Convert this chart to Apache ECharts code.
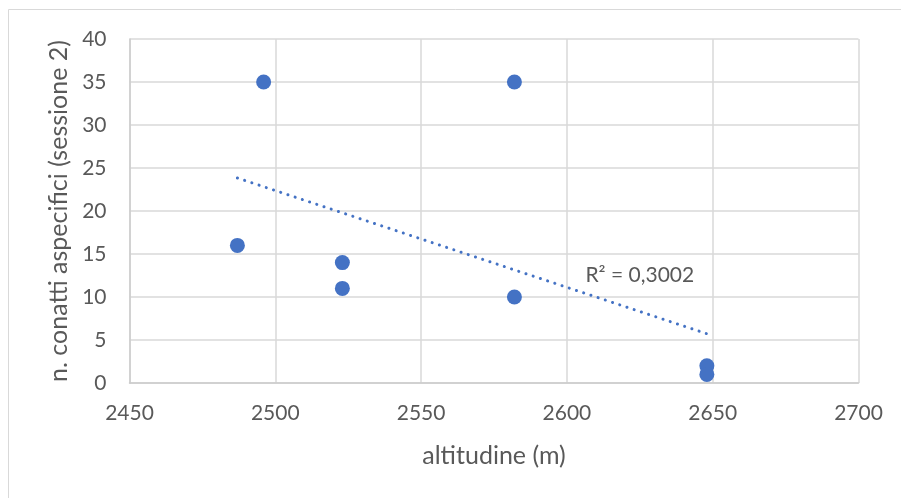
<!DOCTYPE html>
<html><head><meta charset="utf-8">
<script src="https://cdn.jsdelivr.net/npm/echarts@6/dist/echarts.min.js"></script>
<style>html,body{margin:0;padding:0;background:#fff}#c{width:901px;height:498px}</style>
</head><body><div id="c"></div>
<script>
var altitudes = [2487, 2496, 2523, 2523, 2582, 2582, 2648, 2648];
var contacts = [16, 35, 14, 11, 35, 10, 2, 1];
var xTicks = [2450, 2500, 2550, 2600, 2650, 2700];
var yTicks = [0, 5, 10, 15, 20, 25, 30, 35, 40];
var xTitle = 'altitudine (m)';
var yTitle = 'n. conatti aspecifici (sessione 2)';
var r2Label = 'R² = 0,3002';

var n = altitudes.length, mx = 0, my = 0;
for (var i = 0; i < n; i++) { mx += altitudes[i]; my += contacts[i]; }
mx /= n; my /= n;
var sxy = 0, sxx = 0;
for (var i = 0; i < n; i++) { sxy += (altitudes[i]-mx)*(contacts[i]-my); sxx += (altitudes[i]-mx)*(altitudes[i]-mx); }
var slope = sxy / sxx, icpt = my - slope * mx;
var xmin = Math.min.apply(null, altitudes), xmax = Math.max.apply(null, altitudes);
var trend = [[xmin, icpt + slope * xmin], [xmax, icpt + slope * xmax]];
var pts = altitudes.map(function (a, i) { return [a, contacts[i]]; });

var font = 'Lato, "Open Sans", sans-serif';
var chart = echarts.init(document.getElementById('c'), null, {renderer: 'canvas'});
chart.setOption({
  animation: false,
  graphic: [{type: 'rect', shape: {x: 8.5, y: 9.5, width: 900, height: 500},
    style: {fill: 'none', stroke: '#d9d9d9', lineWidth: 1}, z: -10}],
  grid: {left: 129.5, right: 42.5, top: 39, bottom: 115, containLabel: false},
  xAxis: {
    type: 'value', min: xTicks[0], max: xTicks[xTicks.length-1], interval: 50,
    name: xTitle, nameLocation: 'middle', nameGap: 60,
    nameTextStyle: {color: '#595959', fontSize: 25, fontFamily: font},
    axisLine: {show: true, lineStyle: {color: '#cccccc', width: 1.5}},
    axisTick: {show: false},
    axisLabel: {color: '#595959', fontSize: 21, fontFamily: font, margin: 20,
      formatter: function (v) { return String(v); }},
    splitLine: {show: true, lineStyle: {color: '#d9d9d9', width: 1.5}}
  },
  yAxis: {
    type: 'value', min: yTicks[0], max: yTicks[yTicks.length-1], interval: 5,
    name: yTitle, nameLocation: 'middle', nameGap: 47,
    nameTextStyle: {color: '#595959', fontSize: 25, fontFamily: font},
    axisLine: {show: true, lineStyle: {color: '#cccccc', width: 1.5}},
    axisTick: {show: false},
    axisLabel: {color: '#595959', fontSize: 21, fontFamily: font, margin: 23},
    splitLine: {show: true, lineStyle: {color: '#d9d9d9', width: 1.5}}
  },
  series: [
    {type: 'line', data: trend, showSymbol: false, symbol: 'none',
     lineStyle: {color: '#4472C4', width: 3, type: [0.1, 7.5], cap: 'round'},
     markPoint: {symbol: 'rect', symbolSize: 1, itemStyle: {color: 'transparent'},
       data: [{coord: [2625, 12.5], label: {show: true, formatter: r2Label, color: '#595959',
         fontSize: 21, fontFamily: font, position: 'inside'}}]},
     z: 3},
    {type: 'scatter', data: pts, symbol: 'circle', symbolSize: 15,
     itemStyle: {color: '#4472C4', opacity: 1}, z: 4}
  ]
});
</script></body></html>
